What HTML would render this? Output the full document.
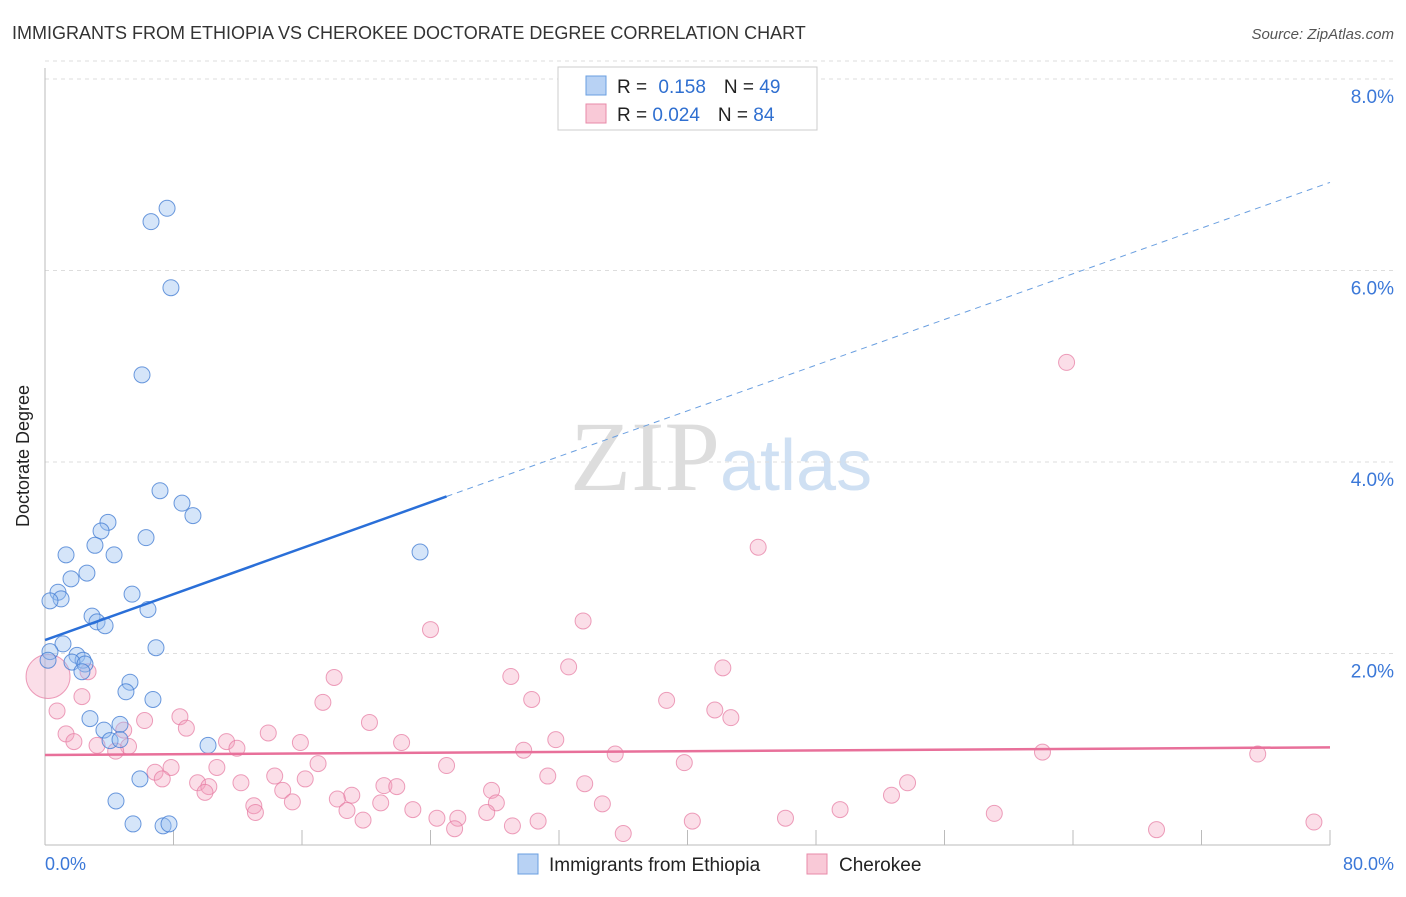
<!DOCTYPE html>
<html><head><meta charset="utf-8"><style>
body{margin:0;background:#fff;font-family:"Liberation Sans",sans-serif}
</style></head><body>
<svg id="chart" width="1406" height="892" xmlns="http://www.w3.org/2000/svg" font-family="Liberation Sans, sans-serif">
<text x="12" y="39" font-size="18" fill="#333">IMMIGRANTS FROM ETHIOPIA VS CHEROKEE DOCTORATE DEGREE CORRELATION CHART</text>
<text x="1394" y="39" font-size="15" fill="#555" font-style="italic" text-anchor="end">Source: ZipAtlas.com</text>
<text x="720" y="490" font-size="100" fill="#ddd" text-anchor="end" font-family="Liberation Serif, serif">ZIP</text>
<text x="720" y="490" font-size="72" fill="#cfe0f3">atlas</text>
<g id="grid"></g><g id="ticks"></g>
<line x1="45" y1="68" x2="45" y2="845" stroke="#bbb"/>
<line x1="45" y1="845" x2="1330" y2="845" stroke="#bbb"/>
<text x="29" y="456" font-size="18" fill="#222" text-anchor="middle" transform="rotate(-90 29 456)">Doctorate Degree</text>
<text x="45" y="870" font-size="18" fill="#3b78d8">0.0%</text>
<text x="1394" y="870" font-size="18" fill="#3b78d8" text-anchor="end">80.0%</text>
<g id="pink"></g><g id="blue"></g><g id="trends"></g>
<g>
<rect x="558" y="67" width="259" height="63" fill="#fff" stroke="#ccc"/>
<rect x="586" y="76" width="20" height="19" fill="#b8d2f4" stroke="#6a9fe0"/>
<text x="617" y="93" font-size="19" fill="#222">R = <tspan fill="#2f6fd0" dx="6">0.158</tspan><tspan dx="18" fill="#222">N = </tspan><tspan fill="#2f6fd0">49</tspan></text>
<rect x="586" y="104" width="20" height="19" fill="#f9c9d7" stroke="#e88aa8"/>
<text x="617" y="121" font-size="19" fill="#222">R = <tspan fill="#2f6fd0">0.024</tspan><tspan dx="18" fill="#222">N = </tspan><tspan fill="#2f6fd0">84</tspan></text>
</g>
<g>
<rect x="518" y="854" width="20" height="20" fill="#b8d2f4" stroke="#6a9fe0"/>
<text x="549" y="871" font-size="19" fill="#222">Immigrants from Ethiopia</text>
<rect x="807" y="854" width="20" height="20" fill="#f9c9d7" stroke="#e88aa8"/>
<text x="839" y="871" font-size="19" fill="#222">Cherokee</text>
</g>
</svg>
<script>
const yTicks=[2,4,6,8];
const yTickLabels=["2.0%","4.0%","6.0%","8.0%"];
const xTicks=[0,8,16,24,32,40,48,56,64,72,80];
const blueX=[7.6,6.6,7.84,6.04,7.16,8.53,9.21,3.92,6.29,3.49,3.11,1.31,4.3,23.35,2.61,1.62,0.81,1.0,0.31,5.42,6.41,2.93,3.24,3.74,6.91,1.12,0.31,0.19,1.99,2.37,1.68,2.49,2.3,5.29,5.04,6.72,2.8,4.67,3.67,4.05,4.67,10.15,5.91,4.42,5.48,7.35,7.72];
const blueY=[6.65,6.51,5.82,4.91,3.7,3.57,3.44,3.37,3.21,3.28,3.13,3.03,3.03,3.06,2.84,2.78,2.64,2.57,2.55,2.62,2.46,2.39,2.33,2.29,2.06,2.1,2.02,1.93,1.98,1.93,1.91,1.89,1.81,1.7,1.6,1.52,1.32,1.26,1.2,1.09,1.1,1.04,0.69,0.46,0.22,0.2,0.22];
const pinkX=[63.6,44.4,33.5,24.0,32.6,42.2,29.0,18.0,2.68,2.3,30.3,38.7,17.3,41.7,42.7,0.75,8.4,20.2,6.2,8.8,1.31,4.9,13.9,31.8,1.8,3.24,5.2,11.3,11.95,15.9,22.2,4.4,29.8,35.5,62.1,75.5,17.0,25.0,39.8,7.85,10.7,6.85,7.3,14.3,16.2,31.3,53.7,9.5,12.2,21.1,21.9,10.2,9.96,14.8,27.8,33.6,52.7,19.1,18.2,15.4,20.9,28.1,34.7,13.0,22.9,18.8,27.5,13.1,49.5,59.1,25.7,24.4,30.7,46.1,19.8,40.3,29.1,25.5,36.0,69.2,79.0,0.19];
const pinkY=[5.04,3.11,2.34,2.25,1.86,1.85,1.76,1.75,1.81,1.55,1.52,1.51,1.49,1.41,1.33,1.4,1.34,1.28,1.3,1.22,1.16,1.2,1.17,1.1,1.08,1.04,1.03,1.08,1.01,1.07,1.07,0.98,0.99,0.95,0.97,0.95,0.85,0.83,0.86,0.81,0.81,0.76,0.69,0.72,0.69,0.72,0.65,0.65,0.65,0.62,0.61,0.61,0.55,0.57,0.57,0.64,0.52,0.52,0.48,0.45,0.44,0.44,0.43,0.41,0.37,0.36,0.34,0.34,0.37,0.33,0.28,0.28,0.25,0.28,0.26,0.25,0.2,0.17,0.12,0.16,0.24,1.76];
const pinkR=[];pinkR[81]=22;
const blueTrend=[0,2.14,25,3.64,80,6.92];
const pinkTrend=[0,0.94,80,1.02];
const X=v=>45+v/80*1285, Y=v=>845-v*95.75;
const NS="http://www.w3.org/2000/svg";
function mk(t,a,p){const e=document.createElementNS(NS,t);for(const k in a)e.setAttribute(k,a[k]);document.getElementById(p).appendChild(e);return e;}
yTicks.forEach((t,i)=>{
 const l=mk('line',{x1:45,x2:1394,y1:Y(t),y2:Y(t),stroke:'#ddd','stroke-dasharray':'4,4'},'grid');
 
 
 const tx=mk('text',{x:1394,y:Y(t)+24,'font-size':19,fill:'#3b78d8','text-anchor':'end'},'grid');
 tx.textContent=yTickLabels[i];
 
 
});
const tg=mk('line',{x1:45,x2:1394,y1:Y(8)-18,y2:Y(8)-18,stroke:'#ddd','stroke-dasharray':'4,4'},'grid');


xTicks.forEach(t=>{
 const l=mk('line',{x1:X(t),x2:X(t),y1:830,y2:845,stroke:'#bbb'},'ticks');
 
 
});
pinkX.forEach((v,i)=>{
 const c=mk('circle',{cx:X(v),cy:Y(pinkY[i]),r:pinkR[i]||8,fill:'rgba(244,160,190,0.35)',stroke:'rgba(230,120,160,0.7)','stroke-width':1},'pink');
 
 
});
blueX.forEach((v,i)=>{
 const c=mk('circle',{cx:X(v),cy:Y(blueY[i]),r:8,fill:'rgba(150,190,240,0.4)',stroke:'rgba(60,120,210,0.75)','stroke-width':1},'blue');
 
 
});
let l1=mk('line',{x1:X(blueTrend[0]),y1:Y(blueTrend[1]),x2:X(blueTrend[2]),y2:Y(blueTrend[3]),stroke:'#2a6fd8','stroke-width':2.5},'trends');


let l2=mk('line',{x1:X(blueTrend[2]),y1:Y(blueTrend[3]),x2:X(blueTrend[4]),y2:Y(blueTrend[5]),stroke:'#6a9fe0','stroke-width':1,'stroke-dasharray':'6,5'},'trends');


let l3=mk('line',{x1:X(pinkTrend[0]),y1:Y(pinkTrend[1]),x2:X(pinkTrend[2]),y2:Y(pinkTrend[3]),stroke:'#e8709a','stroke-width':2.5},'trends');


</script>
</body></html>
